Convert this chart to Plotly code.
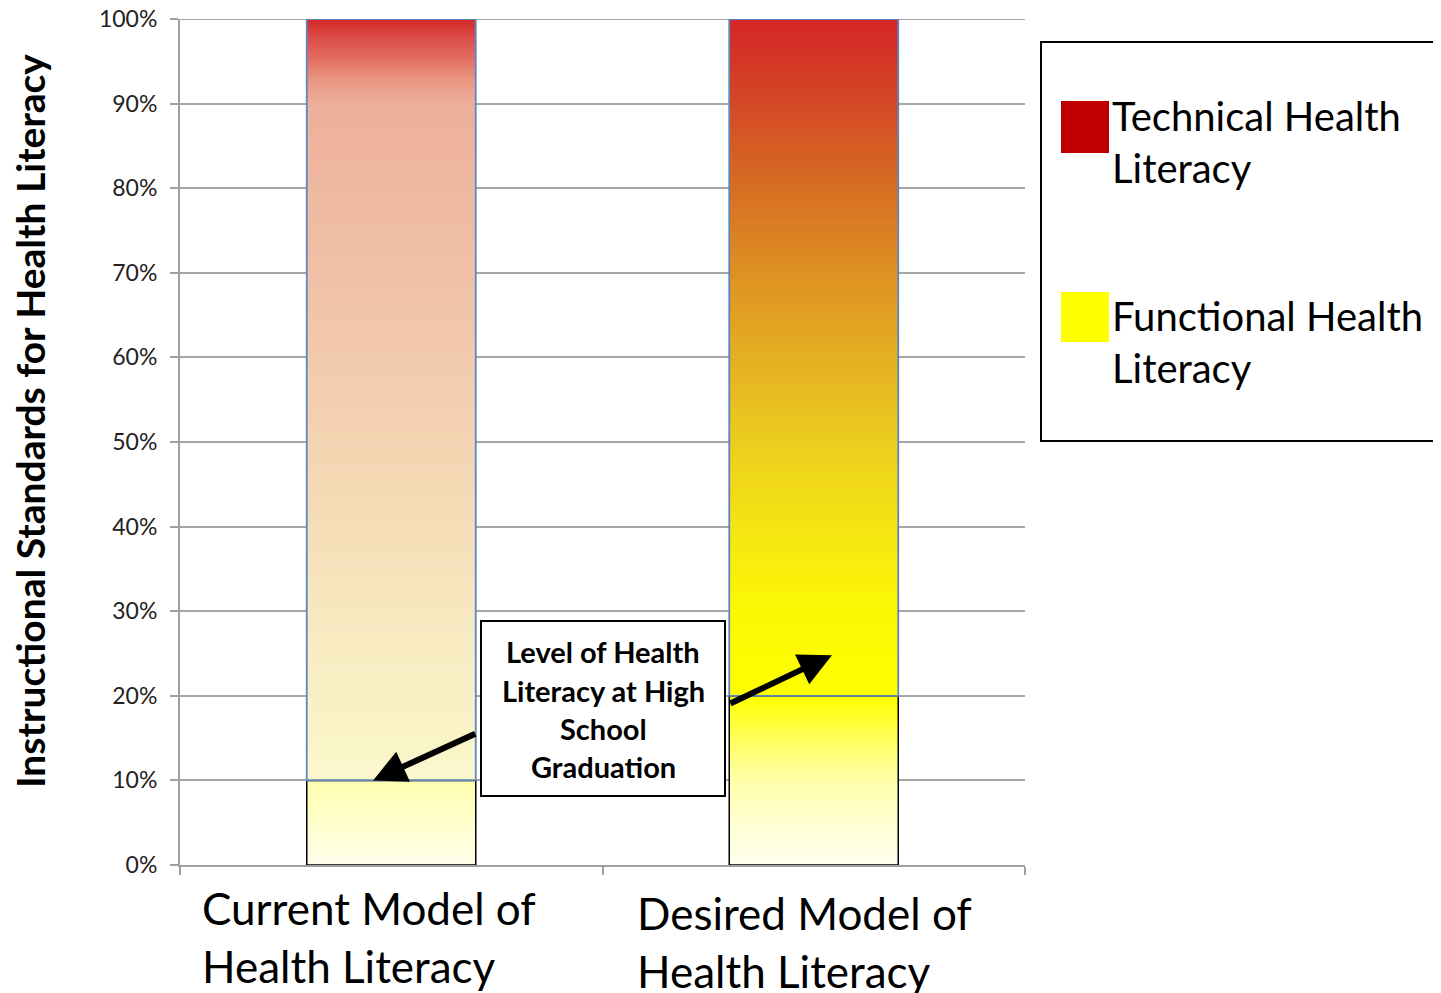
import plotly.graph_objects as go

# ---------------- data ----------------
categories = ["Current Model of Health Literacy", "Desired Model of Health Literacy"]
series_names = ["Technical Health Literacy", "Functional Health Literacy"]
functional = [0.10, 0.20]
technical = [0.90, 0.80]
y_ticks = [0, 0.1, 0.2, 0.3, 0.4, 0.5, 0.6, 0.7, 0.8, 0.9, 1.0]
callout_lines = ["Level of Health", "Literacy at High", "School", "Graduation"]
y_title = "Instructional Standards for Health Literacy"

# ---------------- styles ----------------
FONT = "Lato"
OFF = 8  # page body margin
W, H = 1441 - OFF, 993 - OFF
L, R, T, B = 180, 1025, 19, 865  # plot area in reference pixels
GRID = "#A6A6A6"

tech_grad = [
    [(0.0, (252, 248, 205)), (0.06, (250, 243, 200)), (0.22, (247, 232, 192)),
     (0.44, (244, 212, 178)), (0.67, (240, 192, 167)), (0.889, (237, 175, 155)),
     (0.92, (233, 150, 130)), (0.944, (228, 115, 100)), (0.973, (220, 80, 75)),
     (1.0, (212, 40, 40))],
    [(0.0, (255, 255, 0)), (0.125, (252, 248, 5)), (0.25, (245, 228, 20)),
     (0.375, (235, 205, 30)), (0.5, (228, 175, 35)), (0.625, (222, 145, 35)),
     (0.75, (215, 110, 35)), (0.875, (212, 72, 38)), (1.0, (212, 38, 38))],
]
fun_grad = [
    [(0.0, (255, 254, 235)), (0.5, (255, 255, 205)), (1.0, (255, 255, 175))],
    [(0.0, (255, 255, 240)), (0.25, (255, 255, 210)), (0.5, (255, 255, 170)),
     (0.75, (255, 255, 90)), (1.0, (255, 255, 0))],
]


def interp(stops, t):
    for (p0, c0), (p1, c1) in zip(stops[:-1], stops[1:]):
        if t <= p1:
            f = 0 if p1 == p0 else (t - p0) / (p1 - p0)
            c = [round(a + (b - a) * f) for a, b in zip(c0, c1)]
            return f"rgb({c[0]},{c[1]},{c[2]})"
    c = stops[-1][1]
    return f"rgb({c[0]},{c[1]},{c[2]})"


def px2x(px):
    return (px - L) / (R - L)


def px2y(py):
    return (B - py) / (B - T)


fig = go.Figure()
N = 280
BAR_W = 0.4

segments = [
    (functional, [0.0 for _ in functional], fun_grad),
    (technical, functional, tech_grad),
]
for values, bases, grads in segments:
    for i in range(N):
        ys, bs, cs = [], [], []
        for k in range(len(categories)):
            step = values[k] / N
            h = step * (2.0 if i < N - 1 else 1.0)
            ys.append(h)
            bs.append(bases[k] + step * i)
            cs.append(interp(grads[k], (i + 0.5) / N))
        fig.add_trace(go.Bar(x=categories, y=ys, base=bs, width=BAR_W,
                             marker=dict(color=cs, line=dict(width=0)),
                             hoverinfo="skip", showlegend=False))

# outlines
fig.add_trace(go.Bar(x=categories, y=functional, base=[0, 0], width=BAR_W,
                     marker=dict(color="rgba(0,0,0,0)", line=dict(color="black", width=1.5)),
                     hoverinfo="skip", showlegend=False, name=series_names[1]))
fig.add_trace(go.Bar(x=categories, y=technical, base=functional, width=BAR_W,
                     marker=dict(color="rgba(0,0,0,0)", line=dict(color="#5B87C0", width=1.8)),
                     hoverinfo="skip", showlegend=False, name=series_names[0]))

annotations = []
shapes = []

# top gridline (plotly omits the grid line at the very edge)
shapes.append(dict(type="line", xref="paper", yref="y", x0=0, x1=1, y0=y_ticks[-1], y1=y_ticks[-1],
                   line=dict(color=GRID, width=2), layer="below"))
shapes.append(dict(type="line", xref="paper", yref="y", x0=px2x(172), x1=0, y0=y_ticks[-1], y1=y_ticks[-1],
                   line=dict(color=GRID, width=2), layer="below"))

# y-axis title
annotations.append(dict(text=f"<b>{y_title}</b>", xref="paper", yref="paper",
                        x=px2x(30), y=px2y(421), textangle=-90, showarrow=False,
                        font=dict(family=FONT, size=39, color="black"),
                        xanchor="center", yanchor="middle"))

# category labels (left aligned, two lines)
cat_pos = [(200, 908, 966), (635, 913, 971)]
for cat, (lx, y1, y2) in zip(categories, cat_pos):
    words = cat.split(" ")
    line1 = " ".join(words[:3])
    line2 = " ".join(words[3:])
    for txt, yy in ((line1, y1), (line2, y2)):
        annotations.append(dict(text=txt, xref="paper", yref="paper", x=px2x(lx), y=px2y(yy),
                                xanchor="left", yanchor="middle", showarrow=False,
                                font=dict(family=FONT, size=44, color="black")))

# callout box + text
shapes.append(dict(type="rect", xref="paper", yref="paper",
                   x0=px2x(481), x1=px2x(725), y0=px2y(796), y1=px2y(621),
                   line=dict(color="black", width=2), fillcolor="white", layer="above"))
for txt, yy in zip(callout_lines, [651, 690, 728, 766]):
    annotations.append(dict(text=f"<b>{txt}</b>", xref="paper", yref="paper",
                            x=px2x(603), y=px2y(yy), xanchor="center", yanchor="middle",
                            showarrow=False, font=dict(family=FONT, size=29, color="black")))

# arrows
annotations.append(dict(text="", xref="x", yref="y", axref="x", ayref="y",
                        x=-0.043, y=functional[0], ax=0.2024, ay=0.156,
                        showarrow=True, arrowhead=2, arrowsize=1.1, arrowwidth=6,
                        arrowcolor="black", standoff=0))
annotations.append(dict(text="", xref="x", yref="y", axref="x", ayref="y",
                        x=1.043, y=0.248, ax=0.799, ay=functional[1] - 0.01,
                        showarrow=True, arrowhead=2, arrowsize=1.1, arrowwidth=6,
                        arrowcolor="black", standoff=0))

# custom legend
shapes.append(dict(type="rect", xref="paper", yref="paper",
                   x0=px2x(1041), x1=px2x(1500), y0=px2y(441), y1=px2y(42),
                   line=dict(color="black", width=2), fillcolor="white"))
legend_items = [(series_names[0], "#C00000", (101, 153), (116, 168)),
                (series_names[1], "#FFFF00", (292, 342), (316, 368))]
for name, col, (sy0, sy1), (ty1, ty2) in legend_items:
    shapes.append(dict(type="rect", xref="paper", yref="paper",
                       x0=px2x(1061), x1=px2x(1109), y0=px2y(sy1), y1=px2y(sy0),
                       line=dict(width=0), fillcolor=col))
    first, last = name.rsplit(" ", 1)
    for txt, yy in ((first, ty1), (last, ty2)):
        annotations.append(dict(text=txt, xref="paper", yref="paper", x=px2x(1110), y=px2y(yy),
                                xanchor="left", yanchor="middle", showarrow=False,
                                font=dict(family=FONT, size=40, color="black")))

fig.update_layout(
    width=W, height=H,
    margin=dict(l=L - OFF, r=W - (R - OFF), t=T - OFF, b=H - (B - OFF), pad=0, autoexpand=False),
    barmode="overlay",
    plot_bgcolor="white", paper_bgcolor="white",
    showlegend=False,
    annotations=annotations, shapes=shapes,
    xaxis=dict(type="category", categoryorder="array", categoryarray=categories,
               range=[-0.5, 1.5], showticklabels=False, showgrid=False, zeroline=False,
               showline=True, linecolor="#A0A0A0", linewidth=2, automargin=False,
               ticks="outside", tickson="boundaries", ticklen=8, tickwidth=2, tickcolor="#A0A0A0"),
    yaxis=dict(range=[0, 1], tickvals=y_ticks, tickformat=".0%", automargin=False,
               ticklabeloverflow="allow", ticklabelstandoff=8,
               showgrid=True, gridcolor=GRID, gridwidth=2, zeroline=False,
               showline=True, linecolor="#A0A0A0", linewidth=2,
               ticks="outside", ticklen=8, tickwidth=2, tickcolor="#A0A0A0",
               tickfont=dict(family=FONT, size=23, color="#222")),
)

fig.write_html("out.html")
